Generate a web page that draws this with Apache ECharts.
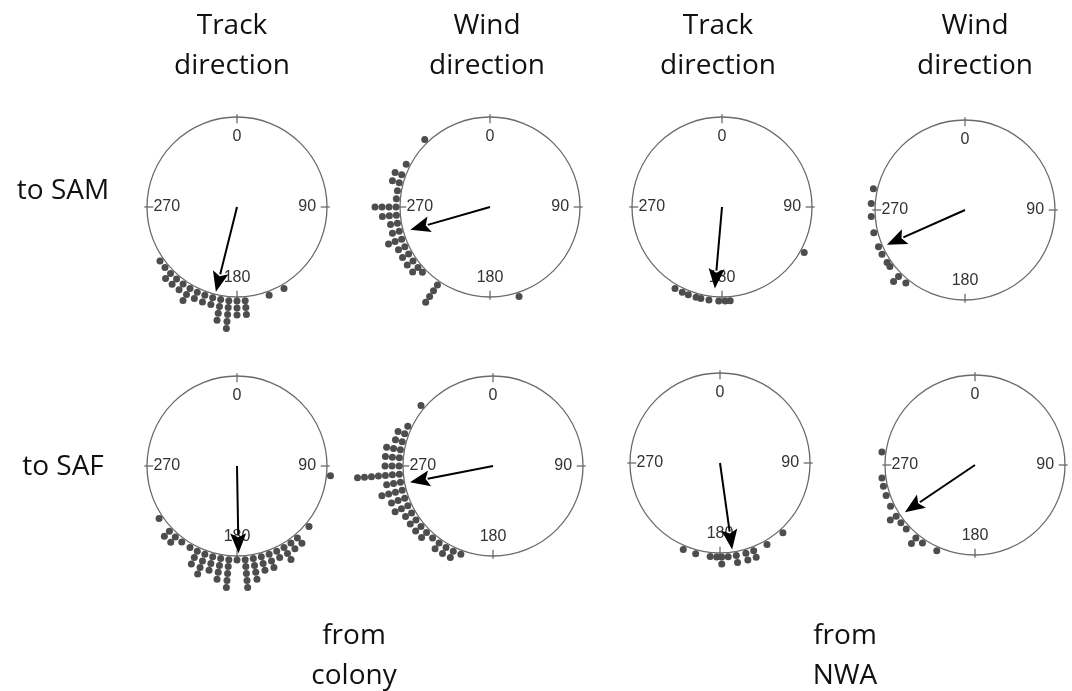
<!DOCTYPE html>
<html><head><meta charset="utf-8">
<script src="https://cdn.jsdelivr.net/npm/echarts@6/dist/echarts.min.js"></script>
<style>html,body{margin:0;padding:0;background:#fff}#c{width:1072px;height:691px}</style>
</head><body><div id="c"></div>
<script>
// ---- data ----
const tickAngles = [0, 90, 180, 270];
const tickLabels = ['0', '90', '180', '270'];
const columnTitles = ['Track\ndirection', 'Wind\ndirection', 'Track\ndirection', 'Wind\ndirection'];
const rowTitles = ['to SAM', 'to SAF'];
const groupTitles = ['from\ncolony', 'from\nNWA'];

// observed directions: [angle (deg), number of individuals in that bin]
const trackSamColony = [[235,1],[230,1],[225,2],[220,2],[215,2],[210,3],[205,2],[200,2],[195,2],[190,4],[185,5],[180,3],[175,3],[160,1],[150,1]];
const windSamColony  = [[316,1],[297,1],[290,2],[285,2],[280,1],[275,1],[270,4],[265,3],[260,2],[255,2],[250,3],[245,2],[240,2],[235,2],[230,2],[226,1],[214,4],[162,1]];
const trackSamNwa    = [[210,1],[205,1],[201,1],[196,1],[193,1],[188,1],[182,1],[178,1],[175,1],[119,1]];
const windSamNwa     = [[283,1],[274,1],[266,1],[256,1],[247,1],[242,1],[236,1],[233,1],[225,2],[219,1]];
const trackSafColony = [[236,1],[226,2],[221,2],[216,1],[210,1],[205,3],[200,4],[195,3],[190,4],[185,5],[180,1],[175,5],[170,4],[165,3],[160,3],[155,2],[150,3],[145,2],[140,2],[130,1],[96,1]];
const windSafColony  = [[310,1],[295,1],[290,2],[285,2],[280,3],[275,3],[270,3],[265,7],[260,3],[255,4],[250,3],[245,3],[240,2],[235,2],[230,2],[225,2],[220,1],[215,2],[210,2],[205,2],[200,1]];
const trackSafNwa    = [[203,1],[195,1],[186,1],[182,1],[179,2],[175,1],[170,2],[164,2],[159,2],[150,1],[138,1]];
const windSafNwa     = [[278,1],[262,1],[257,1],[251,1],[244,1],[237,2],[232,1],[227,1],[219,2],[214,1],[204,1]];

// mean vectors: [resultant length (0-1), mean angle (deg)]
const meanTrackSamColony = [0.97, 194];
const meanWindSamColony  = [0.92, 254];
const meanTrackSamNwa    = [0.91, 185];
const meanWindSamNwa     = [0.95, 246];
const meanTrackSafColony = [0.97, 179];
const meanWindSafColony  = [0.94, 259];
const meanTrackSafNwa    = [0.97, 172];
const meanWindSafNwa     = [0.94, 236];

// ---- layout ----
const panels = [
  {bins: trackSamColony, mean: meanTrackSamColony, c: [237, 207]},
  {bins: windSamColony,  mean: meanWindSamColony,  c: [490, 207]},
  {bins: trackSamNwa,    mean: meanTrackSamNwa,    c: [722, 207]},
  {bins: windSamNwa,     mean: meanWindSamNwa,     c: [965, 210]},
  {bins: trackSafColony, mean: meanTrackSafColony, c: [237, 466]},
  {bins: windSafColony,  mean: meanWindSafColony,  c: [493, 466]},
  {bins: trackSafNwa,    mean: meanTrackSafNwa,    c: [720, 463]},
  {bins: windSafNwa,     mean: meanWindSafNwa,     c: [975, 465]}
];
const R = 90;
const DOT = 7;
const base = 1 + (DOT / 2 + 0.5) / R;
const step = (DOT) / R;

const polar = [], angleAxis = [], radiusAxis = [], series = [];
panels.forEach((p, i) => {
  polar.push({center: p.c, radius: R});
  angleAxis.push({polarIndex: i, type: 'value', min: 0, max: 360, startAngle: 90, clockwise: true,
    axisLine: {lineStyle: {color: '#6a6a6a', width: 1.3}},
    axisTick: {show: false}, axisLabel: {show: false}, splitLine: {show: false}});
  radiusAxis.push({polarIndex: i, type: 'value', min: 0, max: 1, show: false,
    axisLine: {show: false}, axisTick: {show: false}, axisLabel: {show: false}, splitLine: {show: false}});
  const dots = [];
  p.bins.forEach(([a, n]) => { for (let k = 0; k < n; k++) dots.push([base + k * step, a]); });
  series.push({type: 'scatter', coordinateSystem: 'polar', polarIndex: i, clip: false, silent: true,
    symbol: 'circle', symbolSize: DOT, itemStyle: {color: '#4d4d4d', opacity: 1}, data: dots, z: 3});
  // ticks + labels
  series.push({type: 'custom', coordinateSystem: 'polar', polarIndex: i, silent: true, z: 2,
    data: tickAngles.map((a, j) => [0.78, a, j]),
    renderItem: (params, api) => {
      const a = api.value(1);
      const t0 = api.coord([0.93, a]), t1 = api.coord([1.03, a]);
      const pl = api.coord([api.value(0), a]);
      return {type: 'group', children: [
        {type: 'line', shape: {x1: t0[0], y1: t0[1], x2: t1[0], y2: t1[1]}, style: {stroke: '#6a6a6a', lineWidth: 1.3}},
        {type: 'text', x: pl[0], y: pl[1], style: {text: tickLabels[api.value(2)], textAlign: 'center', textVerticalAlign: 'middle',
          fontFamily: '"Liberation Sans", Arial, sans-serif', fontSize: 16, fill: '#333'}}
      ]};
    }});
  // mean vector arrow
  series.push({type: 'custom', coordinateSystem: 'polar', polarIndex: i, silent: true, z: 5,
    data: [p.mean],
    renderItem: (params, api) => {
      const L = api.value(0), a = api.value(1);
      const p0 = api.coord([0, a]), p1 = api.coord([L, a]);
      const dx = p1[0] - p0[0], dy = p1[1] - p0[1];
      const len = Math.sqrt(dx * dx + dy * dy);
      const ux = dx / len, uy = dy / len, nx = -uy, ny = ux;
      const hl = 20, hw = 8;
      const bx = p1[0] - ux * hl, by = p1[1] - uy * hl;
      return {type: 'group', children: [
        {type: 'line', shape: {x1: p0[0], y1: p0[1], x2: bx + ux * 2, y2: by + uy * 2}, style: {stroke: '#000', lineWidth: 2}},
        {type: 'polygon', shape: {points: [[p1[0], p1[1]], [bx + nx * hw, by + ny * hw], [bx + ux * 4, by + uy * 4], [bx - nx * hw, by - ny * hw]]}, style: {fill: '#000'}}
      ]};
    }});
});

const font = '28px "Open Sans", sans-serif';
const graphic = [];
const colX = [232, 487, 718, 975];
columnTitles.forEach((t, i) => {
  const lines = t.split('\n');
  graphic.push({type: 'text', style: {text: lines[0], x: colX[i], y: 26, textAlign: 'center', textVerticalAlign: 'middle', font, fill: '#111'}});
  graphic.push({type: 'text', style: {text: lines[1], x: colX[i], y: 66, textAlign: 'center', textVerticalAlign: 'middle', font, fill: '#111'}});
});
const rowY = [191, 467];
rowTitles.forEach((t, i) => {
  graphic.push({type: 'text', style: {text: t, x: 63, y: rowY[i], textAlign: 'center', textVerticalAlign: 'middle', font, fill: '#111'}});
});
const grpX = [354, 845];
groupTitles.forEach((t, i) => {
  const lines = t.split('\n');
  graphic.push({type: 'text', style: {text: lines[0], x: grpX[i], y: 636, textAlign: 'center', textVerticalAlign: 'middle', font, fill: '#111'}});
  graphic.push({type: 'text', style: {text: lines[1], x: grpX[i], y: 676, textAlign: 'center', textVerticalAlign: 'middle', font, fill: '#111'}});
});

const chart = echarts.init(document.getElementById('c'), null, {renderer: 'canvas'});
chart.setOption({animation: false, backgroundColor: '#fff', polar, angleAxis, radiusAxis, series, graphic});
</script>
</body></html>
